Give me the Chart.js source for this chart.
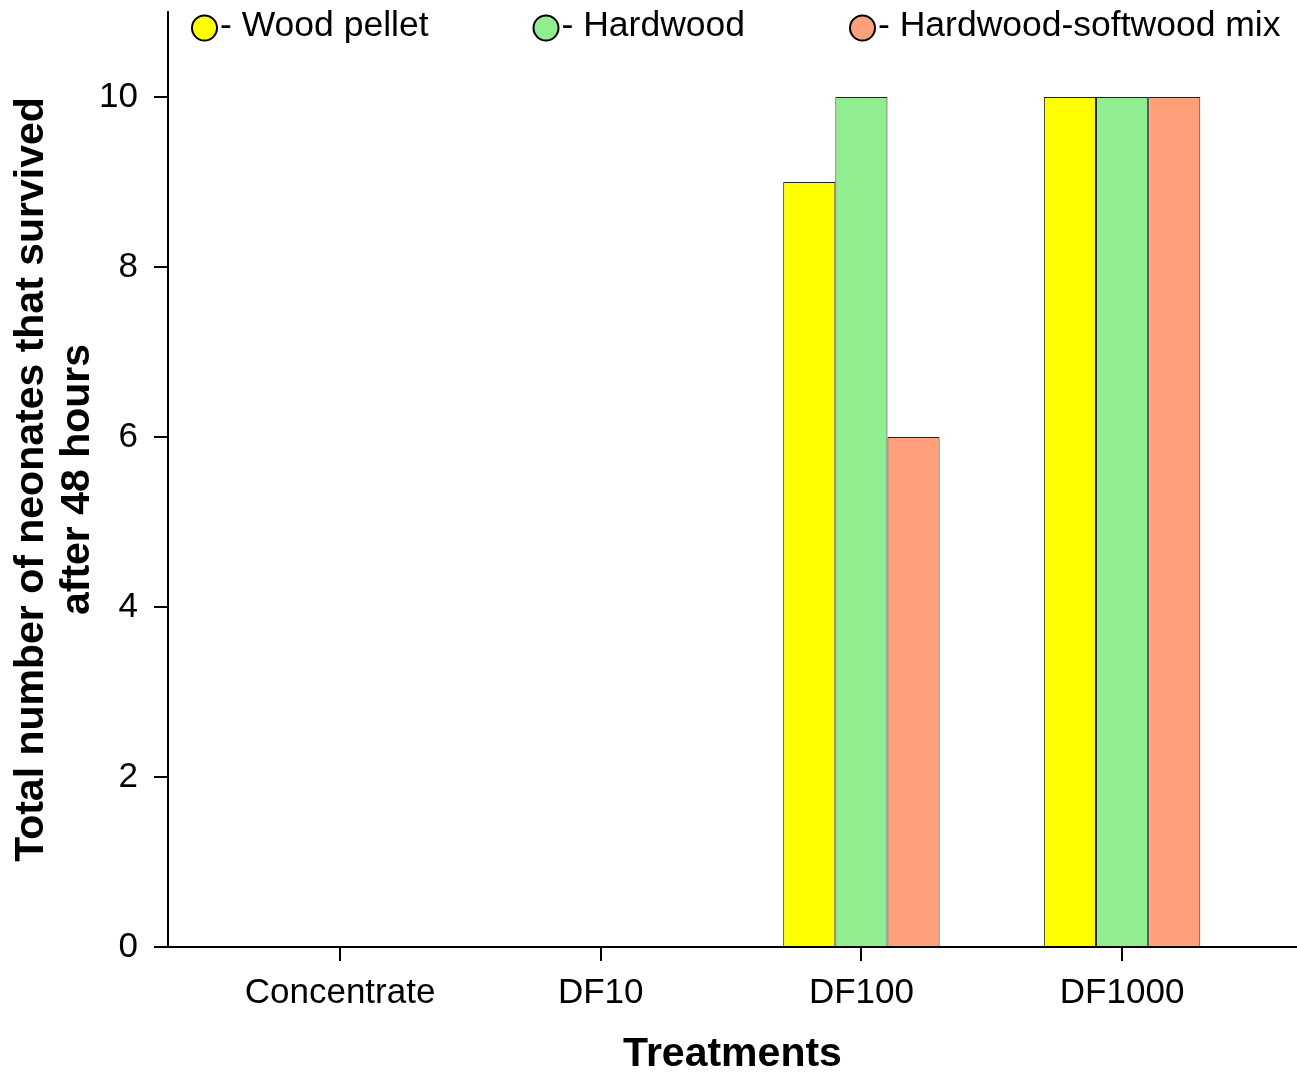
<!DOCTYPE html>
<html>
<head>
<meta charset="utf-8">
<script src="https://cdn.jsdelivr.net/npm/chart.js@4.4.1/dist/chart.umd.min.js"></script>
<style>
  html, body { margin: 0; padding: 0; background: #fff; }
  canvas { display: block; }
</style>
</head>
<body>
<canvas id="survivalChart" width="1297" height="1076"></canvas>
<script>
// Dados do gráfico
const categories = ['Concentrate', 'DF10', 'DF100', 'DF1000'];
const seriesLabels = ['Wood pellet', 'Hardwood', 'Hardwood-softwood mix'];
const woodPellet = [0, 0, 9, 10];
const hardwood = [0, 0, 10, 10];
const mixWood = [0, 0, 6, 10];
const yTicks = [0, 2, 4, 6, 8, 10];

const seriesColors = ['#ffff00', '#90ee90', '#ffa07a'];
const fontFamily = '"Liberation Sans", Arial, sans-serif';

function toPoints(values) {
    return values.map((v, i) => ({ x: i, y: v }));
}

// Legenda desenhada dentro da área do gráfico (como no original)
const insideLegend = {
    id: 'insideLegend',
    afterDraw(chart) {
        const ctx = chart.ctx;
        const area = chart.chartArea;
        const r = 12.5;
        const cy = 25;
        let x = area.left + 24;
        ctx.save();
        ctx.font = '35.5px ' + fontFamily;
        ctx.textBaseline = 'middle';
        ctx.textAlign = 'left';
        chart.data.datasets.forEach((ds, i) => {
            ctx.beginPath();
            ctx.arc(x + r, cy + 3, r, 0, Math.PI * 2);
            ctx.fillStyle = ds.backgroundColor;
            ctx.fill();
            ctx.lineWidth = 2;
            ctx.strokeStyle = '#000';
            ctx.stroke();
            const text = '- ' + ds.label;
            ctx.fillStyle = '#000';
            ctx.fillText(text, x + 2 * r + 3, cy + 1);
            x += 2 * r + 3 + ctx.measureText(text).width + 105;
        });
        ctx.restore();
    }
};

const datasets = [woodPellet, hardwood, mixWood].map((values, i) => ({
    label: seriesLabels[i],
    data: toPoints(values),
    backgroundColor: seriesColors[i],
    borderColor: '#222',
    borderWidth: 1,
    borderSkipped: 'start',
    categoryPercentage: 0.6,
    barPercentage: 1.0
}));

new Chart(document.getElementById('survivalChart'), {
    type: 'bar',
    data: { datasets: datasets },
    options: {
        responsive: false,
        animation: false,
        layout: { padding: { top: 12, right: 0, left: 0, bottom: 0 } },
        plugins: {
            legend: { display: false },
            tooltip: { enabled: false }
        },
        scales: {
            x: {
                type: 'linear',
                min: -0.66,
                max: 3.671,
                offset: false,
                afterFit(scale) {
                    scale.height = 129;
                    scale.paddingLeft = 0;
                    scale.paddingRight = 0;
                },
                afterBuildTicks(scale) {
                    scale.ticks = categories.map((c, i) => ({ value: i }));
                },
                border: { display: true, color: '#000', width: 2 },
                grid: {
                    offset: false,
                    drawOnChartArea: false,
                    drawTicks: true,
                    tickLength: 14,
                    color: '#000',
                    lineWidth: 2
                },
                ticks: {
                    padding: 11,
                    color: '#000',
                    font: { family: fontFamily, size: 35 },
                    callback: (value) => categories[value] ?? ''
                },
                title: {
                    display: true,
                    text: 'Treatments',
                    color: '#000',
                    font: { family: fontFamily, size: 41, weight: 'bold', lineHeight: 1 },
                    padding: { top: 0, bottom: 1 }
                }
            },
            y: {
                min: 0,
                max: 11,
                afterFit(scale) {
                    scale.width = 168;
                    scale.paddingTop = 0;
                    scale.paddingBottom = 0;
                },
                afterBuildTicks(scale) {
                    scale.ticks = yTicks.map(v => ({ value: v }));
                },
                border: { display: true, color: '#000', width: 2 },
                grid: {
                    drawOnChartArea: false,
                    drawTicks: true,
                    tickLength: 14,
                    color: '#000',
                    lineWidth: 2
                },
                ticks: {
                    padding: 16,
                    color: '#000',
                    font: { family: fontFamily, size: 35 }
                },
                title: {
                    display: true,
                    text: ['Total number of neonates that survived', 'after 48 hours'],
                    color: '#000',
                    font: { family: fontFamily, size: 41, weight: 'bold', lineHeight: 1.12 },
                    padding: { top: 9, bottom: 0 }
                }
            }
        }
    },
    plugins: [insideLegend]
});
</script>
</body>
</html>
